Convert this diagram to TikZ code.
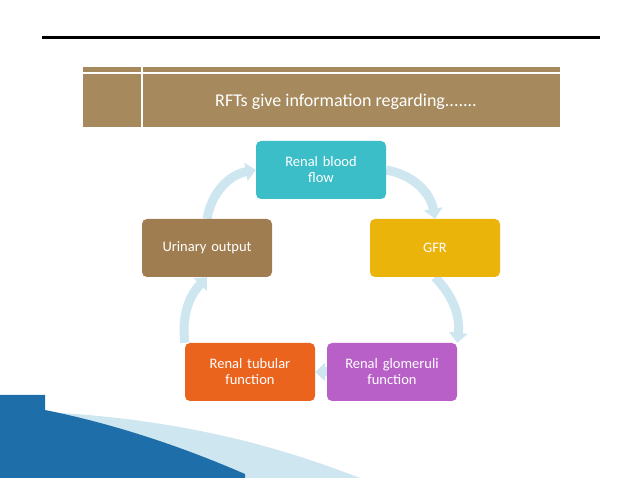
\documentclass[tikz,border=0pt]{standalone}
\usepackage{fontspec}
\setmainfont{Carlito}
\usetikzlibrary{arrows.meta,backgrounds}
\definecolor{hdrbrown}{RGB}{166,138,94}
\definecolor{rbfteal}{RGB}{60,190,200}
\definecolor{gfrgold}{RGB}{235,180,10}
\definecolor{glompurple}{RGB}{185,95,200}
\definecolor{tuborange}{RGB}{235,100,30}
\definecolor{uribrown}{RGB}{160,125,80}
\definecolor{ringblue}{RGB}{205,230,240}
\definecolor{swoosh}{RGB}{30,110,170}
\tikzset{
  stepbox/.style={rounded corners=5pt, minimum width=130pt, minimum height=58pt,
    text width=120pt, align=center, text=white, font=\fontsize{14.5}{16}\selectfont},
  cyclearrow/.style={line width=9pt, draw=ringblue, -{Triangle[length=10pt,width=18pt]}}
}
\begin{document}
\begin{tikzpicture}[x=1pt,y=-1pt]
    \useasboundingbox (0,0) rectangle (638,478);
    \draw[line width=3pt] (42,38) -- (600,38);
    % header bar
    \fill[hdrbrown] (83,67) rectangle (560,127);
    \draw[white,line width=1.5pt] (83,73) -- (560,73) (142,67) -- (142,127);
    \node[text=white,font=\fontsize{18}{20}\selectfont] (hdr) at (346,102) {RFTs give information regarding.......};

    % cycle nodes
    \node[stepbox,fill=rbfteal] (rbf) at (321,170) {Renal blood\\ flow};
    \node[stepbox,fill=gfrgold] (gfr) at (435,248) {GFR};
    \node[stepbox,fill=glompurple] (glom) at (392,372) {Renal glomeruli\\ function};
    \node[stepbox,fill=tuborange] (tub) at (250,372) {Renal tubular\\ function};
    \node[stepbox,fill=uribrown] (uri) at (207,248) {Urinary output};

    \begin{scope}[on background layer]
    \fill[white] (0,0) rectangle (638,478);
    \draw[cyclearrow] (rbf.east) to[bend left=35] (gfr.north);
    \draw[cyclearrow] (gfr.south) to[bend left=25] (glom.north east);
    \draw[cyclearrow] (glom.west) -- (tub.east);
    \draw[cyclearrow] (tub.north west) to[bend left=25] (uri.south);
    \draw[cyclearrow] (uri.north) to[bend left=35] (rbf.west);
    \end{scope}

    % swoosh
    \fill[ringblue] (45,412) .. controls (200,420) and (300,455) .. (360,478) -- (245,478) -- (245,474) .. controls (190,450) and (120,425) .. (45,412) -- cycle;
    \fill[swoosh] (0,395) -- (45,395) -- (45,410) .. controls (120,425) and (190,450) .. (245,474) -- (245,478) -- (0,478) -- cycle;
\end{tikzpicture}
\end{document}
